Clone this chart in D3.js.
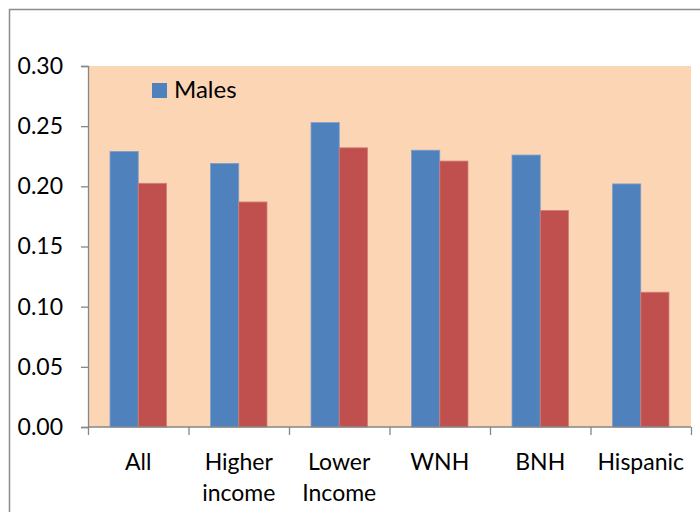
<!DOCTYPE html>
<html>
<head>
<meta charset="utf-8">
<script src="https://cdn.jsdelivr.net/npm/d3@7"></script>
<style>
  html, body { margin: 0; padding: 0; background: #fff; }
  svg { display: block; font-family: Lato, "Open Sans", sans-serif; }
</style>
</head>
<body>
<svg id="chart" width="700" height="512"></svg>
<script>
// Category labels (multi-line labels split on "\n")
const categories = ["All", "Higher\nincome", "Lower\nIncome", "WNH", "BNH", "Hispanic"];
// Series values
const males   = [0.229, 0.219, 0.253, 0.230, 0.226, 0.202];
const females = [0.2025, 0.187, 0.232, 0.221, 0.180, 0.112];
const seriesNames = ["Males", "Females"];
const yTicks = [0.00, 0.05, 0.10, 0.15, 0.20, 0.25, 0.30];

const svg = d3.select("#chart");
const W = 700, H = 512;
const plot = { left: 88, right: 691, top: 66, bottom: 427 };

// outer chart frame
svg.append("rect")
  .attr("x", 9.5).attr("y", 9.5)
  .attr("width", W + 20).attr("height", H + 20)
  .attr("fill", "#fff").attr("stroke", "#8c8c8c").attr("stroke-width", 1.5);

const x0 = d3.scaleBand().domain(d3.range(categories.length))
  .range([plot.left, plot.right]).paddingInner(0).paddingOuter(0);
const x1 = d3.scaleBand().domain([0, 1])
  .range([0, x0.bandwidth()]).paddingInner(0).paddingOuter(0.78);
const y = d3.scaleLinear().domain([0, 0.30]).range([plot.bottom, plot.top]);

// plot area background
svg.append("rect")
  .attr("x", plot.left).attr("y", plot.top)
  .attr("width", plot.right - plot.left).attr("height", plot.bottom - plot.top)
  .attr("fill", "#FCD5B5");

const colors = ["#4F81BD", "#C0504D"];
const data = categories.map((c, i) => [males[i], females[i]]);

const groups = svg.append("g").selectAll("g").data(data).join("g")
  .attr("transform", (d, i) => `translate(${x0(i)},0)`);
groups.selectAll("rect").data(d => d).join("rect")
  .attr("x", (d, j) => x1(j))
  .attr("y", d => y(d))
  .attr("width", x1.bandwidth())
  .attr("height", d => y(0) - y(d))
  .attr("fill", (d, j) => colors[j])
  .attr("stroke", (d, j) => j === 0 ? "#7d9fcb" : "#cf7d7a")
  .attr("stroke-width", 0.8);

// y axis
const yAxis = d3.axisLeft(y).tickValues(yTicks).tickFormat(d3.format(".2f"))
  .tickSize(7).tickPadding(18);
const gy = svg.append("g").attr("transform", `translate(${plot.left},0)`).call(yAxis);
gy.select(".domain").attr("stroke", "#868686").attr("stroke-width", 1.3);
gy.selectAll(".tick line").attr("stroke", "#868686").attr("stroke-width", 1.3);
gy.selectAll(".tick text").attr("font-size", 23).attr("fill", "#000")
  .attr("font-family", "Lato, 'Open Sans', sans-serif");

// x axis
const xTickPos = d3.range(categories.length + 1).map(i => plot.left + i * x0.step());
const xLin = d3.scaleLinear().domain([plot.left, plot.right]).range([plot.left, plot.right]);
const gx = svg.append("g").attr("transform", `translate(0,${plot.bottom})`)
  .call(d3.axisBottom(xLin).tickValues(xTickPos).tickSize(8).tickFormat(""));
gx.select(".domain").attr("stroke", "#868686").attr("stroke-width", 1.3)
  .attr("d", `M${plot.left},0H${plot.right}`);
gx.selectAll(".tick line").attr("stroke", "#868686").attr("stroke-width", 1.3);

// category labels
const lbl = svg.append("g").selectAll("text").data(categories).join("text")
  .attr("x", (d, i) => x0(i) + x0.bandwidth() / 2)
  .attr("y", 470)
  .attr("text-anchor", "middle")
  .attr("font-size", 23)
  .attr("fill", "#000");
lbl.each(function(d) {
  const t = d3.select(this);
  d.split("\n").forEach((line, k) => {
    t.append("tspan").attr("x", t.attr("x")).attr("dy", k === 0 ? 0 : 31).text(line);
  });
});

// legend (first series only)
const lg = svg.append("g").attr("transform", "translate(152,83)");
lg.append("rect").attr("width", 15).attr("height", 15).attr("fill", colors[0]);
lg.append("text").attr("x", 22).attr("y", 15).attr("font-size", 24).attr("fill", "#000")
  .text(seriesNames[0]);
</script>
</body>
</html>
